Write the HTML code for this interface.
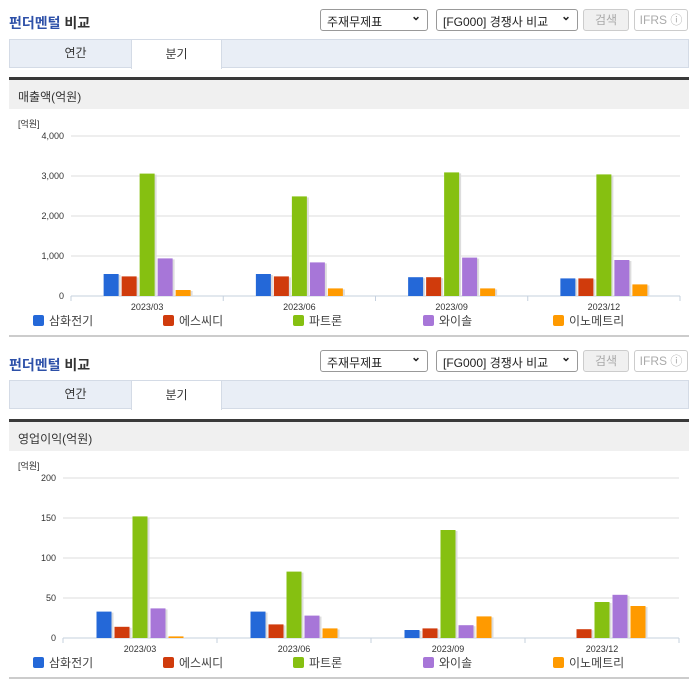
<!DOCTYPE html>
<html><head><meta charset="utf-8"><style>
*{box-sizing:border-box;margin:0;padding:0}
body{width:696px;height:684px;background:#fff;font-family:"Liberation Sans","Noto Sans CJK KR",sans-serif;position:relative;overflow:hidden;color:#333}
.abs{position:absolute}
.title{font-size:14px;font-weight:bold;left:9px}
.title .b{color:#2d50a8}
.sel{border:1px solid #999;border-radius:3px;height:22px;font-size:12px;padding:3px 6px;background:#fff;color:#222}
.sel:after{content:"⌄";position:absolute;right:6px;top:-1px;font-weight:bold}
.btn{border:1px solid #ccc;border-radius:3px;height:22px;font-size:12px;color:#aaa;text-align:center;line-height:20px;background:#f0f0f0}
.tabs{left:9px;width:680px;height:29px;background:#e9eef6;border:1px solid #d4dbe6}
.tab{top:-1px;height:29px;font-size:12px;line-height:28px;text-align:center;width:91px}
.tab.on{background:#fff;border:1px solid #d4dbe6;border-bottom:none;height:30px}
.hdr{left:9px;width:680px;height:32px;background:#f0f0f0;border-top:3px solid #3a3a3a;font-size:12px;padding:8px 9px}
.bot{left:9px;width:680px;height:2px;background:#ccc}
svg text{font-family:"Liberation Sans","Noto Sans CJK KR",sans-serif}
</style></head><body>
<div id="s1">
<div class="abs title" style="top:13px"><span class="b">펀더멘털</span> 비교</div>
<div class="abs sel" style="left:320px;top:9px;width:108px">주재무제표</div>
<div class="abs sel" style="left:436px;top:9px;width:142px">[FG000] 경쟁사 비교</div>
<div class="abs btn" style="left:583px;top:9px;width:46px">검색</div>
<div class="abs btn" style="left:634px;top:9px;width:54px;background:#fff">IFRS ⓘ</div>
<div class="abs tabs" style="top:39px">
<div class="abs tab" style="left:20px">연간</div>
<div class="abs tab on" style="left:121px">분기</div></div>
<div class="abs hdr" style="top:77px">매출액(억원)</div>
<svg id="c1" class="abs" style="left:0;top:110px" width="696" height="226"></svg>
<div class="abs bot" style="top:335px"></div>
</div>
<div id="s2">
<div class="abs title" style="top:355px"><span class="b">펀더멘털</span> 비교</div>
<div class="abs sel" style="left:320px;top:350px;width:108px">주재무제표</div>
<div class="abs sel" style="left:436px;top:350px;width:142px">[FG000] 경쟁사 비교</div>
<div class="abs btn" style="left:583px;top:350px;width:46px">검색</div>
<div class="abs btn" style="left:634px;top:350px;width:54px;background:#fff">IFRS ⓘ</div>
<div class="abs tabs" style="top:380px">
<div class="abs tab" style="left:20px">연간</div>
<div class="abs tab on" style="left:121px">분기</div></div>
<div class="abs hdr" style="top:419px">영업이익(억원)</div>
<svg id="c2" class="abs" style="left:0;top:452px" width="696" height="226"></svg>
<div class="abs bot" style="top:677px"></div>
</div>
<script>
const categories=["2023/03","2023/06","2023/09","2023/12"];
const seriesNames=["삼화전기","에스씨디","파트론","와이솔","이노메트리"];
const revSamhwa=[550,550,470,440];
const revScd=[490,490,470,440];
const revPartron=[3060,2490,3090,3040];
const revWisol=[940,840,960,900];
const revInno=[150,190,190,290];
const revTicks=[0,1000,2000,3000,4000];
const revTickLabels=["0","1,000","2,000","3,000","4,000"];
const opSamhwa=[33,33,10,0];
const opScd=[14,17,12,11];
const opPartron=[152,83,135,45];
const opWisol=[37,28,16,54];
const opInno=[2,12,27,40];
const opTicks=[0,50,100,150,200];
const opTickLabels=["0","50","100","150","200"];
const colors=["#2468d8","#d03b0c","#86c011","#a776d8","#ff9a00"];
const NS="http://www.w3.org/2000/svg";
function mk(svg,tag,attrs,txt){const e=document.createElementNS(NS,tag);for(const k in attrs)e.setAttribute(k,attrs[k]);if(txt!==undefined)e.textContent=txt;svg.appendChild(e);return e;}
function draw(id,series,ticks,labels,max,left,right,top,base){
 const svg=document.getElementById(id);
 const y=v=>base-(v/max)*(base-top);
 const cw=(right-left)/categories.length;
 const x=i=>left+cw*(i+0.5);
 let u=mk(svg,'text',{x:18,y:top-9,'font-size':9,fill:'#333'},'[억원]');
 
 ticks.forEach((t,i)=>{
  let l=mk(svg,'line',{x1:left,x2:right,y1:y(t),y2:y(t),stroke:'#dcdcdc'});
  
  let tx=mk(svg,'text',{x:left-7,y:y(t)+3,'font-size':9,'text-anchor':'end',fill:'#333'},labels[i]);
  
 });
 mk(svg,'line',{x1:left,x2:right,y1:base,y2:base,stroke:'#c5d0de'});
 for(let i=0;i<=categories.length;i++){mk(svg,'line',{x1:left+cw*i,x2:left+cw*i,y1:base,y2:base+5,stroke:'#c5d0de'});}
 categories.forEach((c,i)=>{
  let tx=mk(svg,'text',{x:x(i),y:base+14,'font-size':9,'text-anchor':'middle',fill:'#333'},c);
  
  series.forEach((s,j)=>{
   const bx=x(i)+(j-2)*18-7.5, v=s[i];
   if(v<=0)return;
   mk(svg,'rect',{x:bx+2,y:y(v)+1,width:15,height:base-y(v)-1,fill:'#ddd'});
   let r=mk(svg,'rect',{x:bx,y:y(v),width:15,height:base-y(v),fill:colors[j]});
   
  });
 });
 seriesNames.forEach((n,j)=>{
  const lx=33+j*130, ly=base+29;
  let r=mk(svg,'rect',{x:lx,y:ly-10,width:11,height:11,rx:2,fill:colors[j]});
  
  let t=mk(svg,'text',{x:lx+16,y:ly,'font-size':12,fill:'#444'},n);
  
 });
}
draw('c1',[revSamhwa,revScd,revPartron,revWisol,revInno],revTicks,revTickLabels,4000,71,680,26,186);
draw('c2',[opSamhwa,opScd,opPartron,opWisol,opInno],opTicks,opTickLabels,200,63,679,26,186);
</script>
</body></html>
